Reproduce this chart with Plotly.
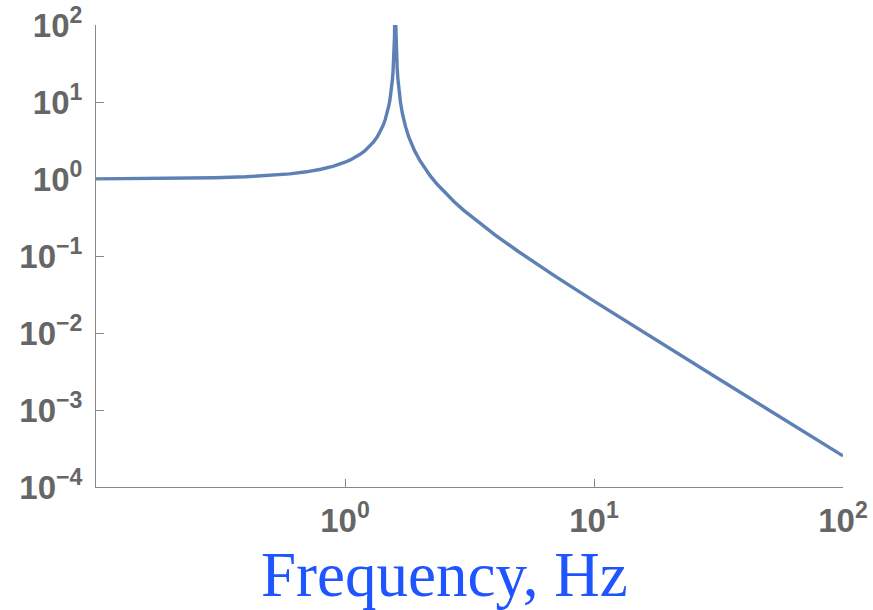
import plotly.graph_objects as go

# Frequency (Hz) and magnitude
freq = [0.1, 0.15, 0.2, 0.3, 0.4, 0.5, 0.6, 0.7, 0.8, 0.9, 0.95, 1.0, 1.05,
        1.1, 1.15, 1.2, 1.25, 1.3, 1.35, 1.4, 1.42, 1.45, 1.48, 1.5, 1.515,
        1.53, 1.54, 1.55, 1.56, 1.57, 1.575, 1.58, 1.585, 1.59, 1.595, 1.6,
        1.605, 1.61, 1.62, 1.63, 1.64, 1.65, 1.67, 1.7, 1.72, 1.75, 1.8, 1.85,
        1.9, 2.0, 2.1, 2.2, 2.35, 2.5, 2.75, 3.0, 3.5, 4.0, 5.0, 6.0, 7.0,
        10.0, 15.0, 20.0, 30.0, 50.0, 70.0, 100.0]
magnitude = [1.00396, 1.00896, 1.0160, 1.0368, 1.06743, 1.1095, 1.16566,
             1.2398, 1.3381, 1.4701, 1.55352, 1.6523, 1.77069, 1.9146,
             2.09253, 2.3175, 2.61001, 3.0047, 3.56506, 4.4206, 4.90316,
             5.8841, 7.39317, 8.951, 10.653, 13.186, 15.694, 19.41, 25.48,
             37.20, 48.37, 69.2, 121.9, 516.0, 229.9, 93.8, 58.86, 42.86,
             27.72, 20.45, 16.18, 13.37, 9.898, 7.095, 5.955, 4.784, 3.5827,
             2.8476, 2.3519, 1.7267, 1.34949, 1.0980, 0.84730, 0.68147,
             0.50363, 0.39168, 0.26068, 0.18809, 0.11270, 0.075688, 0.054511,
             0.025984, 0.011385, 0.0063726, 0.0028224, 0.0010142, 0.00051718,
             0.00025336]

x_tickvals = [1, 10, 100]
x_ticktext = ["10<sup>0</sup>", "10<sup>1</sup>", "10<sup>2</sup>"]
y_tickvals = [1e-4, 1e-3, 1e-2, 1e-1, 1, 10, 100]
y_ticktext = ["10<sup>\u22124</sup>", "10<sup>\u22123</sup>", "10<sup>\u22122</sup>",
              "10<sup>\u22121</sup>", "10<sup>0</sup>", "10<sup>1</sup>", "10<sup>2</sup>"]

fig = go.Figure()
fig.add_trace(go.Scatter(x=freq, y=magnitude, mode="lines",
                         line=dict(color="#5e81b5", width=3.4), showlegend=False))

tickfont = dict(family="Liberation Sans, Arial, sans-serif", size=33,
                color="#666666", weight="bold")

fig.update_layout(
    width=873, height=610,
    margin=dict(l=96, r=30, t=25, b=123),
    paper_bgcolor="white", plot_bgcolor="white",
    xaxis=dict(type="log", range=[-1, 2], showgrid=False, zeroline=False,
               showline=True, linecolor="#888888", linewidth=1,
               ticks="inside", ticklen=8, tickcolor="#888888",
               tickvals=x_tickvals, ticktext=x_ticktext, tickfont=tickfont,
               ticklabelstandoff=4, automargin=False),
    yaxis=dict(type="log", range=[-4, 2], showgrid=False, zeroline=False,
               showline=True, linecolor="#888888", linewidth=1,
               ticks="inside", ticklen=8, tickcolor="#888888",
               tickvals=y_tickvals, ticktext=y_ticktext, tickfont=tickfont,
               ticklabelstandoff=6, automargin=False),
    annotations=[dict(text="Frequency, Hz", xref="paper", yref="paper",
                      x=0.466, y=-0.19, xanchor="center", yanchor="middle",
                      showarrow=False,
                      font=dict(family="Liberation Serif, Times New Roman, serif",
                                size=63, color="#1f55ff"))],
)

fig.write_html("out.html")
